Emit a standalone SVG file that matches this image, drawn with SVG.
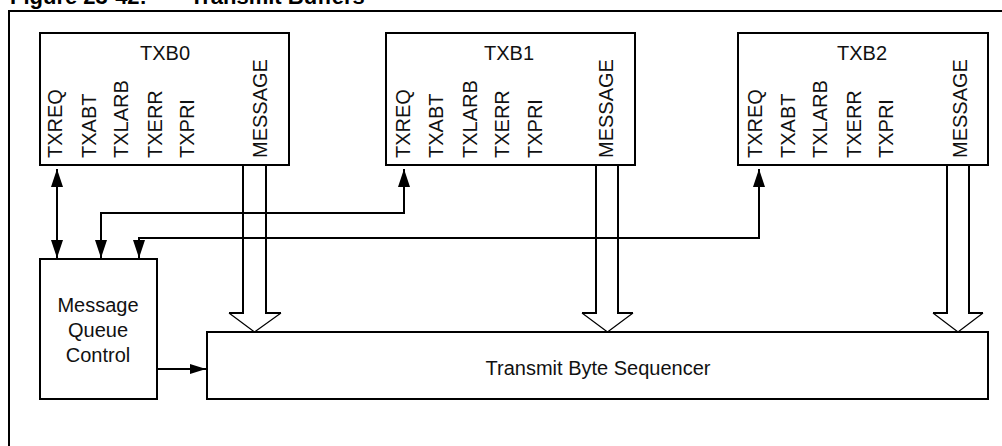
<svg xmlns="http://www.w3.org/2000/svg" width="1002" height="446" viewBox="0 0 1002 446">
<style>
.box{fill:#fff;stroke:#000;stroke-width:2}
.ln{fill:none;stroke:#000;stroke-width:2}
.thin{fill:none;stroke:#000;stroke-width:1.2}
.t{font-family:"Liberation Sans",Arial,sans-serif;font-size:20px;fill:#111}
.v{font-family:"Liberation Sans",Arial,sans-serif;font-size:20px;fill:#111}
.title{font-family:"Liberation Sans",Arial,sans-serif;font-size:22px;font-weight:bold;fill:#000}
</style>
<defs>
<marker id="arr" markerUnits="userSpaceOnUse" markerWidth="18" markerHeight="12" refX="18" refY="6" orient="auto-start-reverse">
<path d="M0,0 L18,6 L0,12 z" fill="#000"/>
</marker>
<marker id="arrS" markerUnits="userSpaceOnUse" markerWidth="16" markerHeight="10" refX="16" refY="5" orient="auto">
<path d="M0,0 L16,5 L0,10 z" fill="#000"/>
</marker>
</defs>
<rect width="1002" height="446" fill="#fff"/>
<text class="title" x="10" y="4">Figure 23-42:</text>
<text class="title" x="190" y="4">Transmit Buffers</text>
<rect x="9" y="11" width="1010" height="460" fill="none" stroke="#000" stroke-width="2"/>

<g id="connectors">
<path class="ln" d="M243,165 V313 H229 M266,165 V313 H281"/>
<path class="thin" d="M229,313 L254.5,332 L281,313"/>
<path class="ln" d="M596,165 V313 H582 M618,165 V313 H633"/>
<path class="thin" d="M582,313 L607.5,332 L633,313"/>
<path class="ln" d="M947,165 V313 H933 M969,165 V313 H983"/>
<path class="thin" d="M933,313 L958,332 L983,313"/>
<path class="ln" d="M57,169 V258" marker-start="url(#arr)" marker-end="url(#arr)"/>
<path class="ln" d="M404,169 V213 H101 V258" marker-start="url(#arr)" marker-end="url(#arr)"/>
<path class="ln" d="M759,169 V238 H139 V258" marker-start="url(#arr)" marker-end="url(#arr)"/>
<path class="ln" d="M157,369 H206" marker-end="url(#arrS)"/>
</g>

<g id="txb0">
<rect class="box" x="40" y="33" width="249" height="132"/>
<text class="t" x="165" y="60" text-anchor="middle">TXB0</text>
<text class="v" transform="translate(62,158) rotate(-90)">TXREQ</text>
<text class="v" transform="translate(96,158) rotate(-90)">TXABT</text>
<text class="v" transform="translate(128,158) rotate(-90)">TXLARB</text>
<text class="v" transform="translate(162,158) rotate(-90)">TXERR</text>
<text class="v" transform="translate(194,158) rotate(-90)">TXPRI</text>
<text class="v" transform="translate(267,158) rotate(-90)">MESSAGE</text>
</g>

<g id="txb1">
<rect class="box" x="386" y="33" width="249" height="132"/>
<text class="t" x="509" y="60" text-anchor="middle">TXB1</text>
<text class="v" transform="translate(410,158) rotate(-90)">TXREQ</text>
<text class="v" transform="translate(443,158) rotate(-90)">TXABT</text>
<text class="v" transform="translate(477,158) rotate(-90)">TXLARB</text>
<text class="v" transform="translate(509,158) rotate(-90)">TXERR</text>
<text class="v" transform="translate(542,158) rotate(-90)">TXPRI</text>
<text class="v" transform="translate(613,158) rotate(-90)">MESSAGE</text>
</g>

<g id="txb2">
<rect class="box" x="738" y="33" width="250" height="132"/>
<text class="t" x="862" y="60" text-anchor="middle">TXB2</text>
<text class="v" transform="translate(762,158) rotate(-90)">TXREQ</text>
<text class="v" transform="translate(795,158) rotate(-90)">TXABT</text>
<text class="v" transform="translate(827,158) rotate(-90)">TXLARB</text>
<text class="v" transform="translate(861,158) rotate(-90)">TXERR</text>
<text class="v" transform="translate(893,158) rotate(-90)">TXPRI</text>
<text class="v" transform="translate(967,158) rotate(-90)">MESSAGE</text>
</g>

<g id="mqc">
<rect class="box" x="40" y="259" width="117" height="140"/>
<text class="t" x="98" y="312" text-anchor="middle">Message</text>
<text class="t" x="98" y="337" text-anchor="middle">Queue</text>
<text class="t" x="98" y="362" text-anchor="middle">Control</text>
</g>

<g id="tbs">
<rect class="box" x="207" y="332" width="781" height="67"/>
<text class="t" x="598" y="375" text-anchor="middle">Transmit Byte Sequencer</text>
</g>
</svg>
